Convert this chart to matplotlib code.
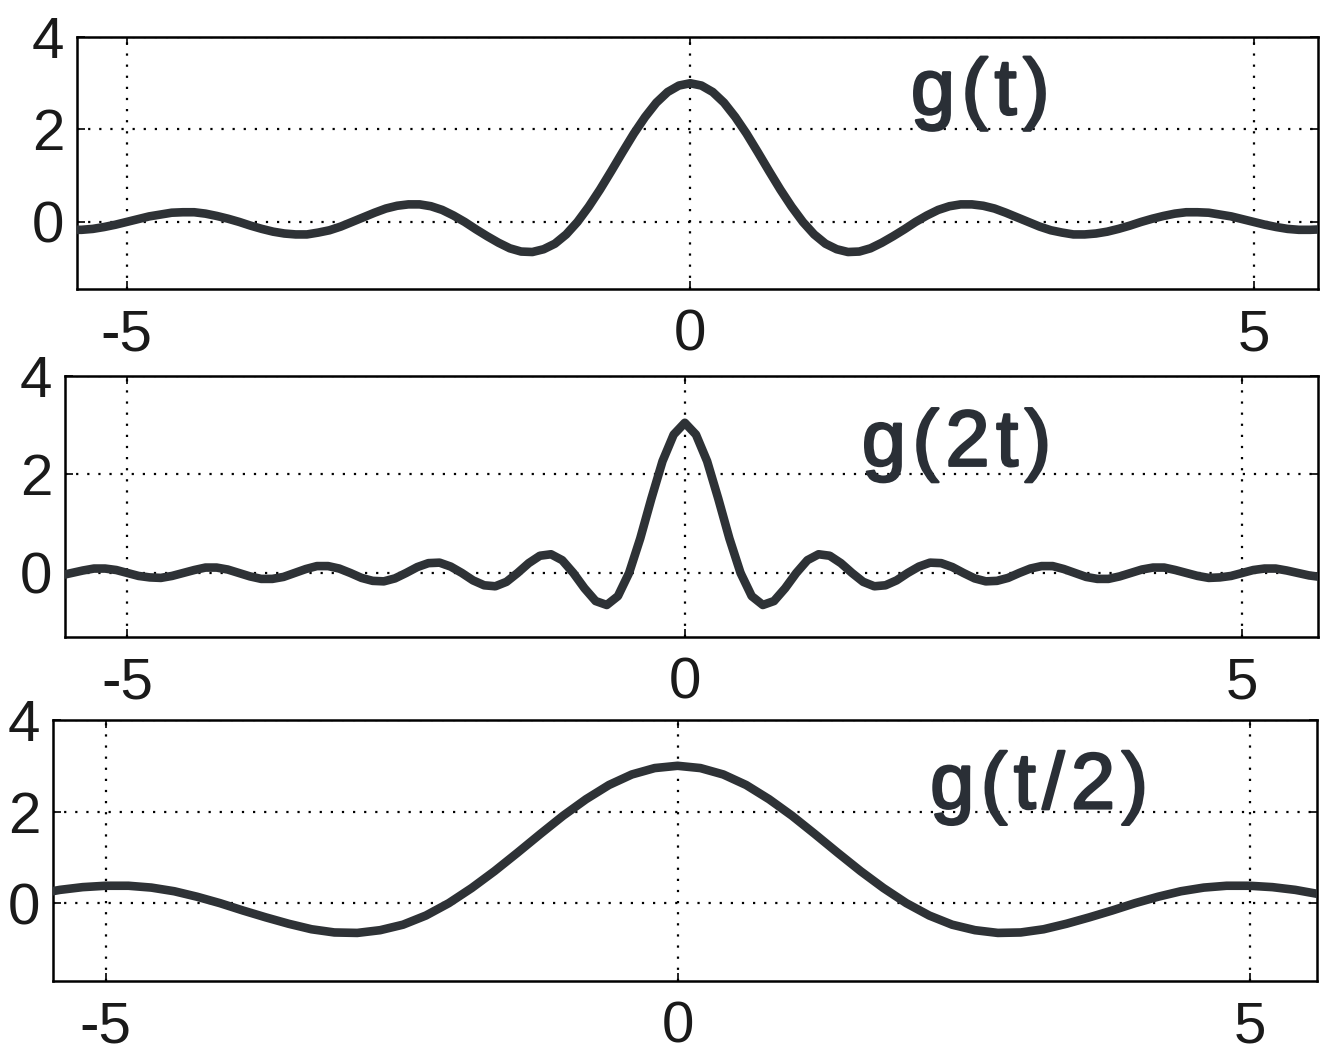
import numpy as np
import matplotlib
matplotlib.use("Agg")
import matplotlib.pyplot as plt
import matplotlib.patheffects as pe

# ---------------- data ----------------
# g(t): samples at t = -5.6 ... 5.6, step 0.1
g_t_vals = [
    -0.16, -0.17, -0.17, -0.15, -0.11, -0.06, 0.00, 0.06, 0.12, 0.16, 0.20, 0.21, 0.21, 0.18, 0.13, 0.07,
    0.00, -0.08, -0.15, -0.21, -0.25, -0.27, -0.27, -0.23, -0.18, -0.10, 0.00, 0.10, 0.20, 0.29, 0.35,
    0.38, 0.38, 0.34, 0.26, 0.14, 0.00, -0.16, -0.31, -0.45, -0.57, -0.64, -0.65, -0.59, -0.47, -0.27,
    0.00, 0.33, 0.70, 1.10, 1.51, 1.91, 2.27, 2.58, 2.81, 2.95,
    3.00,
    2.95, 2.81, 2.58, 2.27, 1.91, 1.51, 1.10, 0.70, 0.33, 0.00,
    -0.27, -0.47, -0.59, -0.65, -0.64, -0.57, -0.45, -0.31, -0.16, 0.00, 0.14, 0.26, 0.34, 0.38, 0.38,
    0.35, 0.29, 0.20, 0.10, 0.00, -0.10, -0.18, -0.23, -0.27, -0.27, -0.25, -0.21, -0.15, -0.08, 0.00,
    0.07, 0.13, 0.18, 0.21, 0.21, 0.20, 0.16, 0.12, 0.06, 0.00, -0.06, -0.11, -0.15, -0.17, -0.17, -0.16,
]
g_t_time = np.round(np.linspace(-5.6, 5.6, len(g_t_vals)), 2)

# g(2t): samples at t = -5.7 ... 5.7, step 0.1
g_2t_vals = [
    -0.08, -0.05, 0.00, 0.05, 0.09, 0.09, 0.06, 0.00, -0.06, -0.09, -0.10, -0.06, 0.00, 0.06, 0.11, 0.11,
    0.07, 0.00, -0.07, -0.12, -0.12, -0.08, 0.00, 0.08, 0.14, 0.14, 0.09, 0.00, -0.10, -0.16, -0.17,
    -0.11, 0.00, 0.12, 0.20, 0.21, 0.13, 0.00, -0.15, -0.25, -0.27, -0.18, 0.00, 0.20, 0.35, 0.38, 0.26,
    0.00, -0.31, -0.57, -0.65, -0.47, 0.00, 0.70, 1.51, 2.27, 2.81,
    3.05,
    2.81, 2.27, 1.51, 0.70, 0.00, -0.47, -0.65, -0.57, -0.31, 0.00, 0.26, 0.38, 0.35, 0.20, 0.00,
    -0.18, -0.27, -0.25, -0.15, 0.00, 0.13, 0.21, 0.20, 0.12, 0.00, -0.11, -0.17, -0.16, -0.10, 0.00,
    0.09, 0.14, 0.14, 0.08, 0.00, -0.08, -0.12, -0.12, -0.07, 0.00, 0.07, 0.11, 0.11, 0.06, 0.00,
    -0.06, -0.10, -0.09, -0.06, 0.00, 0.06, 0.09, 0.09, 0.05, 0.00, -0.05, -0.08,
]
g_2t_time = np.round(np.linspace(-5.7, 5.7, len(g_2t_vals)), 2)

# g(t/2): samples at t = -5.6 ... 5.6, step 0.2
g_half_vals = [
    0.20, 0.29, 0.35, 0.38, 0.38, 0.34, 0.26, 0.14, 0.00, -0.16, -0.31, -0.45, -0.57, -0.64, -0.65,
    -0.59, -0.47, -0.27, 0.00, 0.33, 0.70, 1.10, 1.51, 1.91, 2.27, 2.58, 2.81, 2.95,
    3.00,
    2.95, 2.81, 2.58, 2.27, 1.91, 1.51, 1.10, 0.70, 0.33, 0.00, -0.27, -0.47, -0.59, -0.65, -0.64,
    -0.57, -0.45, -0.31, -0.16, 0.00, 0.14, 0.26, 0.34, 0.38, 0.38, 0.35, 0.29, 0.20,
]
g_half_time = np.round(np.linspace(-5.6, 5.6, len(g_half_vals)), 2)

labels = ["g(t)", "g(2t)", "g(t/2)"]
x_ticks = [-5, 0, 5]
y_ticks = [0, 2, 4]
x_tick_labels = ["-5", "0", "5"]
y_tick_labels = ["0", "2", "4"]

series = [(g_t_time, g_t_vals), (g_2t_time, g_2t_vals), (g_half_time, g_half_vals)]

# ---------------- layout ----------------
W, H = 1329, 1052
fig = plt.figure(figsize=(W / 100, H / 100), dpi=100)
fig.patch.set_facecolor("white")

# pixel boxes (left, top, right, bottom)
boxes = [(77, 37, 1318, 289), (65, 376, 1318, 637), (53, 720, 1317, 981)]
xlims = [(-5.44, 5.57), (-5.56, 5.68), (-5.46, 5.59)]
ylims = [(-1.45, 4.0), (-1.30, 4.0), (-1.70, 4.0)]
text_pos = [(0.672, 0.775), (0.636, 0.735), (0.694, 0.74)]

font = "Liberation Sans"
line_color = "#2e3236"
text_color = "#2a2f36"
HS = "\u200a"  # hair space for the wide letter spacing of the labels

for i, ((l, t, r, b), (tt, vv)) in enumerate(zip(boxes, series)):
    ax = fig.add_axes([l / W, 1 - b / H, (r - l) / W, (b - t) / H])
    ax.plot(tt, vv, color=line_color, lw=6.2, solid_capstyle="round",
            solid_joinstyle="round", zorder=3)
    ax.set_xlim(*xlims[i])
    ax.set_ylim(*ylims[i])
    ax.set_xticks(x_ticks)
    ax.set_xticklabels(x_tick_labels)
    ax.set_yticks(y_ticks)
    ax.set_yticklabels(y_tick_labels)
    ax.grid(True, linestyle=(0, (1, 4)), color="black", linewidth=1.6)
    ax.tick_params(direction="in", length=6, width=1.2, top=True, right=True,
                   labelsize=42, pad=9)
    ax.tick_params(axis="x", pad=14)
    for lab in ax.get_xticklabels() + ax.get_yticklabels():
        lab.set_fontfamily(font)
        lab.set_color("#1a1a1a")
    for sp in ax.spines.values():
        sp.set_linewidth(1.8)
        sp.set_color("black")
    ax.text(text_pos[i][0], text_pos[i][1], HS.join(labels[i]), transform=ax.transAxes,
            ha="left", va="center", fontsize=57, family=font,
            color=text_color, zorder=4,
            path_effects=[pe.withStroke(linewidth=1.8, foreground=text_color)])

fig.savefig("out.png", dpi=100, facecolor="white")
